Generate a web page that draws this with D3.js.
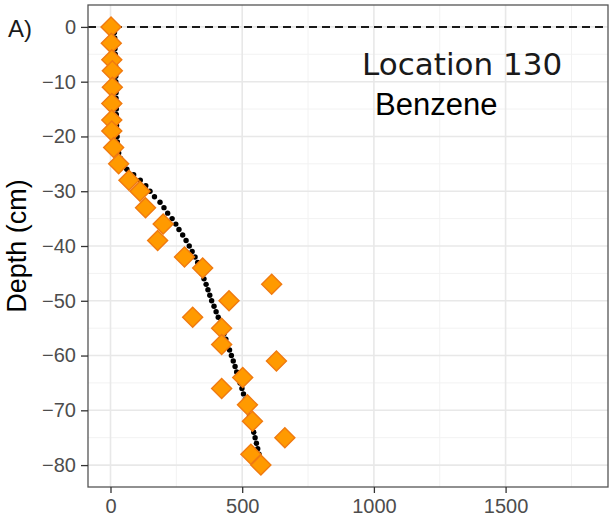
<!DOCTYPE html>
<html>
<head>
<meta charset="utf-8">
<script src="https://cdn.jsdelivr.net/npm/d3@7"></script>
<style>
  html, body { margin: 0; padding: 0; background: #fff; }
  svg { display: block; }
</style>
</head>
<body>
<svg id="chart" width="613" height="520"></svg>
<script>
// ---- data ----
const xTicks = [0, 500, 1000, 1500];
const xMinor = [250, 750, 1250, 1750];
const yTicks = [0, -10, -20, -30, -40, -50, -60, -70, -80];
const yMinor = [-5, -15, -25, -35, -45, -55, -65, -75];

// measured concentrations (orange diamonds)
const obsDepth = [0, -3, -6, -8, -11, -14, -17, -19, -22, -25, -28, -30, -33, -36, -39,
  -42, -44, -47, -50, -53, -55, -58, -61, -64, -66, -69, -72, -75, -78, -80];
const obsConc = [2, 3, 5, 7, 7, 5, 5, 5, 12, 31, 70, 112, 133, 200, 179,
  281, 350, 612, 450, 312, 422, 422, 630, 502, 422, 520, 539, 662, 533, 571];

// model profile (black dots)
const modDepth = [-1, -2, -3, -4, -5, -6, -7, -8, -9, -10, -11, -12, -13, -14, -15, -16, -17, -18, -19, -20,
  -21, -22, -23, -24, -25, -26, -27, -28, -29, -30, -31, -32, -33, -34, -35, -36, -37, -38, -39, -40,
  -41, -42, -43, -44, -45, -46, -47, -48, -49, -50, -51, -52, -53, -54, -55, -56, -57, -58, -59, -60,
  -61, -62, -63, -64, -65, -66, -67, -68, -69, -70, -71, -72, -73, -74, -75, -76, -77, -78, -79];
const modConc = [15, 16, 17, 17, 18, 18, 19, 19, 20, 20, 20, 21, 21, 21, 22, 22, 23, 23, 24, 25,
  26, 28, 31, 38, 48, 62, 88, 113, 134, 150, 167, 188, 203, 217, 234, 248, 260, 274, 287, 299,
  310, 321, 331, 340, 347, 355, 363, 370, 377, 384, 393, 401, 409, 417, 424, 431, 438, 445, 452, 459,
  466, 473, 479, 486, 492, 499, 505, 512, 517, 522, 528, 533, 539, 544, 549, 554, 559, 564, 568];

const panelLabel = "A)";
const titleText = "Location 130";
const subText = "Benzene";
const yTitle = "Depth (cm)";

// ---- layout ----
const P = { left: 88, right: 608, top: 5, bottom: 487 };
const svg = d3.select("#chart");

const x = d3.scaleLinear().domain([-85.4, 1888.8]).range([P.left, P.right]);
const y = d3.scaleLinear().domain([4, -84]).range([P.top, P.bottom]);

// grid
const g = svg.append("g");
g.selectAll(".vmin").data(xMinor).join("line")
  .attr("x1", d => x(d)).attr("x2", d => x(d)).attr("y1", P.top).attr("y2", P.bottom)
  .attr("stroke", "#f2f2f2").attr("stroke-width", 1);
g.selectAll(".hmin").data(yMinor).join("line")
  .attr("y1", d => y(d)).attr("y2", d => y(d)).attr("x1", P.left).attr("x2", P.right)
  .attr("stroke", "#f2f2f2").attr("stroke-width", 1);
g.selectAll(".vmaj").data(xTicks).join("line")
  .attr("x1", d => x(d)).attr("x2", d => x(d)).attr("y1", P.top).attr("y2", P.bottom)
  .attr("stroke", "#e8e8e8").attr("stroke-width", 1.6);
g.selectAll(".hmaj").data(yTicks).join("line")
  .attr("y1", d => y(d)).attr("y2", d => y(d)).attr("x1", P.left).attr("x2", P.right)
  .attr("stroke", "#e8e8e8").attr("stroke-width", 1.6);

// dashed zero line
svg.append("line")
  .attr("x1", P.left).attr("x2", P.right).attr("y1", y(0)).attr("y2", y(0))
  .attr("stroke", "#1a1a1a").attr("stroke-width", 2).attr("stroke-dasharray", "8,5");

// model dots
svg.append("g").selectAll("circle").data(modDepth.map((d, i) => [modConc[i], d])).join("circle")
  .attr("cx", d => x(d[0])).attr("cy", d => y(d[1])).attr("r", 2.7).attr("fill", "#000");

// diamonds
const dsym = d3.symbol().type(d3.symbolSquare).size(200);
svg.append("g").selectAll("path").data(obsDepth.map((d, i) => [obsConc[i], d])).join("path")
  .attr("d", dsym)
  .attr("transform", d => `translate(${x(d[0])},${y(d[1])}) rotate(45)`)
  .attr("fill", "#ff9a00").attr("stroke", "#f07a10").attr("stroke-width", 1.4);

// panel border
svg.append("rect")
  .attr("x", P.left).attr("y", P.top).attr("width", P.right - P.left).attr("height", P.bottom - P.top)
  .attr("fill", "none").attr("stroke", "#555").attr("stroke-width", 1.3);

// axes
const xAxis = d3.axisBottom(x).tickValues(xTicks).tickSize(6).tickPadding(6).tickFormat(d3.format("d"));
const xa = svg.append("g").attr("transform", `translate(0,${P.bottom})`).call(xAxis);
xa.select(".domain").remove();
xa.selectAll(".tick line").attr("stroke", "#333").attr("stroke-width", 1.3);
xa.selectAll(".tick text").attr("font-family", "Liberation Sans, Arial, sans-serif")
  .attr("font-size", 20).attr("fill", "#4d4d4d");

const yAxis = d3.axisLeft(y).tickValues(yTicks).tickSize(7).tickPadding(5)
  .tickFormat(d => d === 0 ? "0" : "\u2212" + Math.abs(d));
const ya = svg.append("g").attr("transform", `translate(${P.left},0)`).call(yAxis);
ya.select(".domain").remove();
ya.selectAll(".tick line").attr("stroke", "#333").attr("stroke-width", 1.3);
ya.selectAll(".tick text").attr("font-family", "Liberation Sans, Arial, sans-serif")
  .attr("font-size", 20).attr("fill", "#4d4d4d");

// texts
svg.append("text").attr("x", 8).attr("y", 37).text(panelLabel)
  .attr("font-family", "Liberation Sans, Arial, sans-serif").attr("font-size", 24).attr("fill", "#1a1a1a");

svg.append("text").attr("transform", `translate(26,${(P.top + P.bottom) / 2}) rotate(-90)`)
  .attr("text-anchor", "middle").text(yTitle)
  .attr("font-family", "Liberation Sans, Arial, sans-serif").attr("font-size", 27).attr("fill", "#000");

svg.append("text").attr("x", 362).attr("y", 75).text(titleText)
  .attr("font-family", "DejaVu Sans, Verdana, sans-serif").attr("font-size", 31).attr("fill", "#1a1a1a");

svg.append("text").attr("x", 375).attr("y", 115).text(subText)
  .attr("font-family", "Liberation Sans, Arial, sans-serif").attr("font-size", 31).attr("fill", "#000");
</script>
</body>
</html>
